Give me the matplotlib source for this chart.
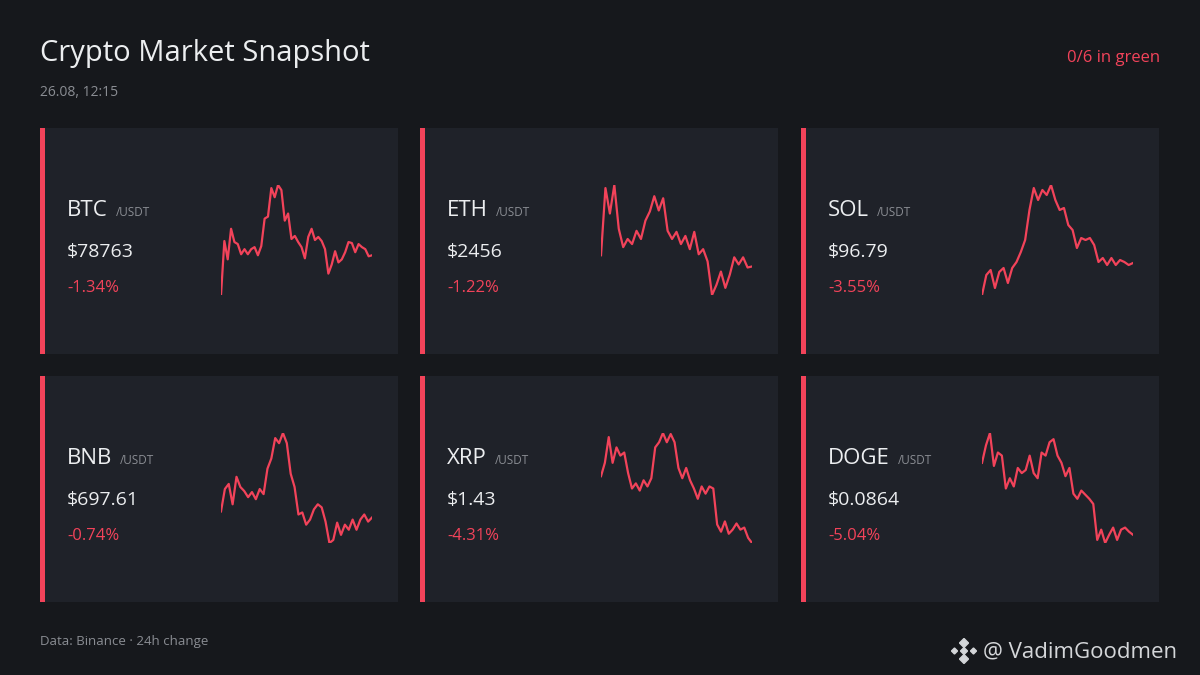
import numpy as np
import matplotlib
matplotlib.use("Agg")
import matplotlib.pyplot as plt
from matplotlib.patches import Rectangle, RegularPolygon

plt.rcParams["font.family"] = ["Open Sans", "DejaVu Sans"]

W, H = 1200, 675
BG, CARD, RED, GRAY, WHITE = "#16181c", "#1f2229", "#f2435a", "#8a8d93", "#eceef0"

SYMBOLS = ["BTC", "ETH", "SOL", "BNB", "XRP", "DOGE"]
PRICES = ["$78763", "$2456", "$96.79", "$697.61", "$1.43", "$0.0864"]
CHANGES = ["-1.34%", "-1.22%", "-3.55%", "-0.74%", "-4.31%", "-5.04%"]

# sparkline levels (relative units, higher = higher price)
BTC = [5, 58, 40, 70, 57, 55, 45, 50, 45, 50, 52, 44, 53, 80, 82, 110, 101, 113, 108, 78,
       85, 60, 63, 57, 52, 41, 62, 70, 59, 62, 58, 50, 26, 35, 48, 37, 40, 47, 57, 56,
       47, 55, 52, 50, 43, 44]
ETH = [44, 110, 85, 113, 70, 52, 60, 55, 68, 60, 78, 87, 102, 88, 100, 68, 60, 67, 55, 63,
       50, 67, 45, 50, 38, 5, 15, 28, 12, 25, 42, 35, 42, 32, 33]
SOL = [5, 25, 30, 12, 28, 32, 17, 32, 38, 48, 60, 90, 112, 100, 110, 105, 115, 100, 90, 92,
       75, 70, 52, 62, 60, 62, 55, 38, 42, 35, 42, 35, 40, 38, 35, 37]
BNB = [31, 53, 58, 38, 65, 55, 51, 45, 50, 43, 53, 48, 73, 83, 103, 98, 108, 98, 68, 55,
       28, 30, 18, 23, 33, 38, 35, 21, 0, 3, 20, 8, 18, 13, 23, 13, 23, 28, 21, 25]
XRP = [65, 78, 103, 78, 93, 85, 88, 68, 53, 58, 51, 61, 55, 63, 93, 98, 107, 98, 106, 98,
       73, 63, 73, 61, 53, 43, 55, 48, 55, 53, 18, 11, 21, 9, 13, 19, 13, 15, 5, 0]
DOGE = [78, 95, 107, 75, 88, 85, 53, 63, 55, 73, 68, 71, 85, 68, 63, 88, 85, 98, 101, 85,
        78, 65, 73, 48, 43, 51, 47, 43, 38, 3, 13, 0, 8, 15, 3, 13, 15, 11, 8]
SERIES = [BTC, ETH, SOL, BNB, XRP, DOGE]

fig = plt.figure(figsize=(12, 6.75), dpi=100, facecolor=BG)


def px_axes(x, y, w, h, **kw):
    return fig.add_axes([x / W, 1 - (y + h) / H, w / W, h / H], **kw)


def ftext(x, y, s, **kw):
    return fig.text(x / W, 1 - y / H, s, **kw)


bg = px_axes(0, 0, W, H)
bg.set_xlim(0, W)
bg.set_ylim(H, 0)
bg.axis("off")

ftext(40, 54, "Crypto Market Snapshot", fontsize=21, color=WHITE, va="center")
ftext(40, 92, "26.08, 12:15", fontsize=10, color=GRAY, va="center")
ftext(1160, 58, "0/6 in green", fontsize=12, color=RED, va="center", ha="right")
ftext(40, 641, "Data: Binance · 24h change", fontsize=9.5, color=GRAY, va="center")
ftext(983, 652, "@ VadimGoodmen", fontsize=16, color="#d4d6d9", va="center")

# rough binance mark
lx, ly = 964, 651
for dx, dy, r in [(0, 0, 3.5), (-9.5, 0, 3), (9.5, 0, 3), (0, -8, 4.5), (0, 8, 4.5)]:
    bg.add_patch(RegularPolygon((lx + dx, ly + dy), 4, radius=r, orientation=0,
                                color="#d4d6d9"))

fig.canvas.draw()
renderer = fig.canvas.get_renderer()
cols, rows = [40, 420, 801], [128, 376]
for i, sym in enumerate(SYMBOLS):
    cx, cy = cols[i % 3], rows[i // 3]
    bg.add_patch(Rectangle((cx, cy), 358, 226, color=CARD, lw=0))
    bg.add_patch(Rectangle((cx, cy), 5, 226, color=RED, lw=0))
    t = ftext(cx + 27, cy + 82, sym, fontsize=16, color=WHITE, va="center")
    bb = t.get_window_extent(renderer=renderer)
    ftext(bb.x1 + 8, cy + 84, "/USDT", fontsize=8.5, color=GRAY, va="center")
    ftext(cx + 27, cy + 124, PRICES[i], fontsize=14, color=WHITE, va="center")
    ftext(cx + 27, cy + 160, CHANGES[i], fontsize=12, color=RED, va="center")

    vals = np.array(SERIES[i], float)
    ax = px_axes(cx + 181, cy + 57, 151, 110)
    ax.plot(np.arange(len(vals)), vals, color=RED, lw=1.6)
    ax.set_xlim(0, len(vals) - 1)
    ax.set_ylim(vals.min(), vals.max())
    ax.axis("off")
    ax.patch.set_alpha(0)

fig.savefig("out.png", dpi=100, facecolor=BG)
